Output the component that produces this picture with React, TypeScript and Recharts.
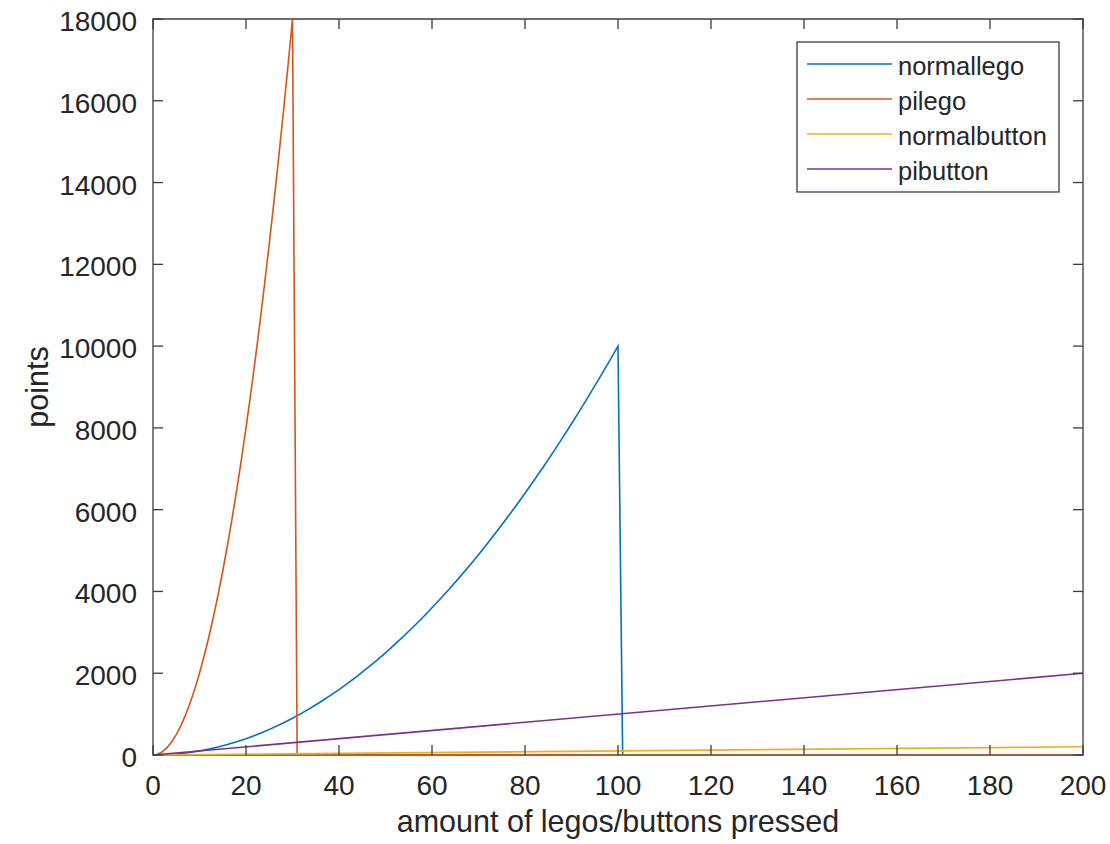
import React from "react";
import { LineChart, Line, XAxis, YAxis, ReferenceArea, Label } from "recharts";

// values
const normalLegoX = [
  0, 2, 4, 6, 8, 10, 12, 14, 16, 18, 20, 22, 24, 26, 28, 30, 32, 34, 36, 38, 40, 42, 44, 46, 48, 50,
  52, 54, 56, 58, 60, 62, 64, 66, 68, 70, 72, 74, 76, 78, 80, 82, 84, 86, 88, 90, 92, 94, 96, 98, 100,
  101, 200,
];
const normalLegoY = [
  0, 4, 16, 36, 64, 100, 144, 196, 256, 324, 400, 484, 576, 676, 784, 900, 1024, 1156, 1296, 1444, 1600,
  1764, 1936, 2116, 2304, 2500, 2704, 2916, 3136, 3364, 3600, 3844, 4096, 4356, 4624, 4900, 5184, 5476,
  5776, 6084, 6400, 6724, 7056, 7396, 7744, 8100, 8464, 8836, 9216, 9604, 10000,
  0, 0,
];

const piLegoX = [
  0, 1, 2, 3, 4, 5, 6, 7, 8, 9, 10, 11, 12, 13, 14, 15, 16, 17, 18, 19, 20, 21, 22, 23, 24, 25, 26, 27,
  28, 29, 30, 31, 200,
];
const piLegoY = [
  0, 20, 80, 180, 320, 500, 720, 980, 1280, 1620, 2000, 2420, 2880, 3380, 3920, 4500, 5120, 5780, 6480,
  7220, 8000, 8820, 9680, 10580, 11520, 12500, 13520, 14580, 15680, 16820, 18000, 0, 0,
];

const normalButtonX = [0, 200];
const normalButtonY = [0, 200];

const piButtonX = [0, 200];
const piButtonY = [0, 2000];

const xTicks = [0, 20, 40, 60, 80, 100, 120, 140, 160, 180, 200];
const yTicks = [0, 2000, 4000, 6000, 8000, 10000, 12000, 14000, 16000, 18000];

const toRows = (xs: number[], ys: number[]) => xs.map((x, i) => ({ x, y: ys[i] }));

const series = [
  { name: "normallego", color: "#0072BD", data: toRows(normalLegoX, normalLegoY) },
  { name: "pilego", color: "#D95319", data: toRows(piLegoX, piLegoY) },
  { name: "normalbutton", color: "#EDB120", data: toRows(normalButtonX, normalButtonY) },
  { name: "pibutton", color: "#7E2F8E", data: toRows(piButtonX, piButtonY) },
];

const FONT = '"Liberation Sans", Arial, sans-serif';
const INK = "#262626";
const AXIS = "#3c3c3c";

// plot box in chart pixels
const LEFT = 153;
const RIGHT = 1083;
const TOP = 19;
const BOTTOM = 755;
const TICK = 10;

const XTick = (props: any) => {
  const { x, payload } = props;
  return (
    <g>
      <line x1={x} x2={x} y1={BOTTOM} y2={BOTTOM - TICK} stroke={AXIS} strokeWidth={1.3} />
      <line x1={x} x2={x} y1={TOP} y2={TOP + TICK} stroke={AXIS} strokeWidth={1.3} />
      <text x={x} y={795} textAnchor="middle" fontFamily={FONT} fontSize={28} fill={INK}>
        {payload.value}
      </text>
    </g>
  );
};

const YTick = (props: any) => {
  const { y, payload } = props;
  return (
    <g>
      <line x1={LEFT} x2={LEFT + TICK} y1={y} y2={y} stroke={AXIS} strokeWidth={1.3} />
      <line x1={RIGHT - TICK} x2={RIGHT} y1={y} y2={y} stroke={AXIS} strokeWidth={1.3} />
      <text x={137} y={y + 12} textAnchor="end" fontFamily={FONT} fontSize={28} fill={INK}>
        {payload.value}
      </text>
    </g>
  );
};

const XTitle = (props: any) => {
  const { viewBox } = props;
  const cx = viewBox.x + viewBox.width / 2;
  return (
    <text x={cx} y={832} textAnchor="middle" fontFamily={FONT} fontSize={30.5} fill={INK}>
      amount of legos/buttons pressed
    </text>
  );
};

const YTitle = (props: any) => {
  const { viewBox } = props;
  const cy = viewBox.y + viewBox.height / 2;
  return (
    <text
      x={48}
      y={cy}
      transform={`rotate(-90, 48, ${cy})`}
      textAnchor="middle"
      fontFamily={FONT}
      fontSize={30.5}
      fill={INK}
    >
      points
    </text>
  );
};

function LegendBox() {
  return (
    <svg width={264} height={152} style={{ position: "absolute", left: 796, top: 41 }}>
      <rect x={1} y={1} width={262} height={150} fill="#fff" stroke={AXIS} strokeWidth={1.3} />
      {series.map((s, i) => (
        <g key={s.name}>
          <line x1={11} x2={96} y1={23 + i * 35} y2={23 + i * 35} stroke={s.color} strokeWidth={1.6} />
          <text x={102} y={34 + i * 35} fontFamily={FONT} fontSize={25.5} fill={INK}>
            {s.name}
          </text>
        </g>
      ))}
    </svg>
  );
}

export default function App() {
  return (
    <div style={{ position: "absolute", left: 0, top: 0, width: 1110, height: 844, background: "#fff" }}>
      <LineChart width={1110} height={844} margin={{ top: TOP, right: 1110 - RIGHT, left: 0, bottom: 0 }}>
        <XAxis
          dataKey="x"
          type="number"
          domain={[0, 200]}
          ticks={xTicks}
          height={844 - BOTTOM}
          axisLine={false}
          tickLine={false}
          tick={<XTick />}
          interval={0}
        >
          <Label content={<XTitle />} />
        </XAxis>
        <YAxis
          type="number"
          domain={[0, 18000]}
          ticks={yTicks}
          width={LEFT}
          axisLine={false}
          tickLine={false}
          tick={<YTick />}
          interval={0}
        >
          <Label content={<YTitle />} />
        </YAxis>
        {series.map((s) => (
          <Line
            key={s.name}
            data={s.data}
            dataKey="y"
            name={s.name}
            type="linear"
            stroke={s.color}
            strokeWidth={1.6}
            dot={false}
            activeDot={false}
            isAnimationActive={false}
          />
        ))}
        <ReferenceArea x1={0} x2={200} y1={0} y2={18000} fill="none" stroke={AXIS} strokeWidth={1.3} />
      </LineChart>
      <LegendBox />
    </div>
  );
}
